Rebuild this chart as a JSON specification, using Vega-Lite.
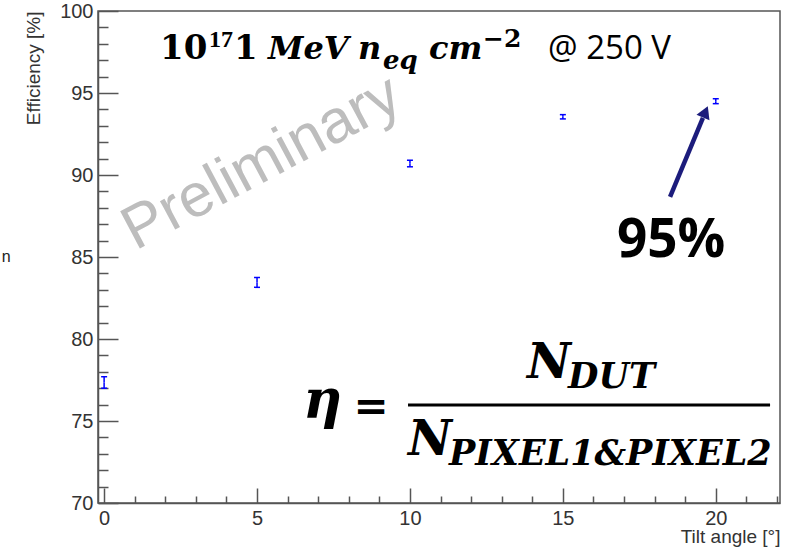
{
  "$schema": "https://vega.github.io/schema/vega-lite/v6.json",
  "width": 682,
  "height": 492,
  "autosize": {"type": "none"},
  "padding": {"left": 98, "top": 11, "right": 10, "bottom": 45},
  "background": "white",
  "config": {"view": {"stroke": "#555555", "strokeWidth": 1.5}},
  "datasets": {
    "pts": [
      {"x": 0, "y": 77.35, "lo": 77.0, "hi": 77.7},
      {"x": 5, "y": 83.45, "lo": 83.15, "hi": 83.75},
      {"x": 10, "y": 90.7, "lo": 90.5, "hi": 90.9},
      {"x": 15, "y": 93.55, "lo": 93.42, "hi": 93.68},
      {"x": 20, "y": 94.5, "lo": 94.35, "hi": 94.65}
    ],
    "wm": [{"x": 5.43, "y": 89.75, "t": "Preliminary"}],
    "edge": [{"x": -3.2, "y": 84.7, "t": "n"}],
    "tBig": [{"x": 1.827, "y": 97.07, "t": "10"}, {"x": 4.247, "y": 97.07, "t": "1"}],
    "tSup1": [{"x": 3.43, "y": 97.8, "t": "17"}],
    "tSup2": [{"x": 12.39, "y": 97.8, "t": "−2"}],
    "tIt": [{"x": 5.36, "y": 97.07, "t": "MeV"}, {"x": 8.302, "y": 97.07, "t": "n"}, {"x": 10.62, "y": 97.07, "t": "cm"}],
    "tSub": [{"x": 9.12, "y": 96.46, "t": "eq"}],
    "tV": [{"x": 14.515, "y": 97.07, "t": "@ 250 V"}],
    "eta": [{"x": 6.504, "y": 75.18, "t": "η"}],
    "eq": [{"x": 8.727, "y": 75.06, "t": "="}],
    "bigN": [{"x": 13.829, "y": 77.62, "t": "N"}, {"x": 9.937, "y": 72.93, "t": "N"}],
    "subN": [{"x": 15.17, "y": 77.01, "t": "DUT"}, {"x": 11.278, "y": 72.32, "t": "PIXEL1&PIXEL2"}],
    "bar": [{"x": 9.937, "x2": 21.775, "y": 75.976}],
    "pct": [{"x": 16.77, "y": 85.0, "t": "95%"}],
    "arrow": [{"x": 18.505, "y": 88.66, "x2": 19.58, "y2": 93.48}],
    "head": [{"x": 19.66, "y": 93.85}]
  },
  "encoding": {
    "x": {
      "field": "x", "type": "quantitative",
      "scale": {"domain": [-0.2, 22.1], "nice": false, "zero": false},
      "axis": {
        "values": [0,1,2,3,4,5,6,7,8,9,10,11,12,13,14,15,16,17,18,19,20,21,22],
        "labelExpr": "datum.value % 5 === 0 ? datum.label : ''",
        "format": "d",
        "tickSize": {"condition": {"test": "datum.value % 5 === 0", "value": -15}, "value": -7},
        "labelPadding": 20,
        "labelFont": "Liberation Sans", "labelFontSize": 20, "labelColor": "#333333",
        "labelFlush": false, "labelOverlap": false,
        "domainColor": "#555555", "domainWidth": 1.5, "tickColor": "#555555", "tickWidth": 1.5,
        "grid": false,
        "title": "Tilt angle [°]", "titleAnchor": "end", "titleFont": "Liberation Sans", "titleFontSize": 19,
        "titleFontWeight": "normal", "titleColor": "#333333", "titlePadding": -9
      }
    },
    "y": {
      "field": "y", "type": "quantitative",
      "scale": {"domain": [70, 100], "nice": false, "zero": false},
      "axis": {
        "values": [70,71,72,73,74,75,76,77,78,79,80,81,82,83,84,85,86,87,88,89,90,91,92,93,94,95,96,97,98,99,100],
        "labelExpr": "datum.value % 5 === 0 ? datum.label : ''",
        "format": "d",
        "tickSize": {"condition": {"test": "datum.value % 5 === 0", "value": -20}, "value": -10},
        "labelPadding": 25,
        "labelFont": "Liberation Sans", "labelFontSize": 20, "labelColor": "#333333",
        "labelFlush": false, "labelOverlap": false,
        "domainColor": "#555555", "domainWidth": 1.5, "tickColor": "#555555", "tickWidth": 1.5,
        "grid": false,
        "title": "Efficiency [%]", "titleAnchor": "end", "titleFont": "Liberation Sans", "titleFontSize": 19,
        "titleFontWeight": "normal", "titleColor": "#333333", "titlePadding": 16
      }
    }
  },
  "layer": [
    {
      "data": {"name": "wm"},
      "mark": {"type": "text", "font": "Liberation Sans", "fontSize": 61, "color": "#bdbdbd", "angle": -28, "align": "center", "baseline": "alphabetic"},
      "encoding": {"text": {"field": "t"}}
    },
    {
      "data": {"name": "edge"},
      "mark": {"type": "text", "font": "Liberation Sans", "fontSize": 16, "color": "#222222", "align": "center", "baseline": "alphabetic"},
      "encoding": {"text": {"field": "t"}}
    },
    {
      "data": {"name": "pts"},
      "mark": {"type": "rule", "color": "#0000ff", "strokeWidth": 1.5},
      "encoding": {"y2": {"field": "hi"}}
    },
    {
      "data": {"name": "pts"},
      "mark": {"type": "rule", "color": "#0000ff", "strokeWidth": 1.5},
      "encoding": {"y2": {"field": "lo"}}
    },
    {
      "data": {"name": "pts"},
      "transform": [{"fold": ["lo", "hi"], "as": ["end", "y"]}],
      "mark": {"type": "point", "shape": "M-1,0L1,0", "filled": false, "stroke": "#0000ff", "strokeWidth": 1.5, "size": 36, "opacity": 1},
      "encoding": {}
    },
    {
      "data": {"name": "tBig"},
      "mark": {"type": "text", "font": "DejaVu Serif", "fontWeight": "bold", "fontSize": 34, "color": "black", "align": "left", "baseline": "alphabetic"},
      "encoding": {"text": {"field": "t"}}
    },
    {
      "data": {"name": "tSup1"},
      "mark": {"type": "text", "font": "Liberation Serif", "fontWeight": "bold", "fontSize": 24, "color": "black", "align": "left", "baseline": "alphabetic"},
      "encoding": {"text": {"field": "t"}}
    },
    {
      "data": {"name": "tSup2"},
      "mark": {"type": "text", "font": "DejaVu Serif", "fontWeight": "bold", "fontSize": 25, "color": "black", "align": "left", "baseline": "alphabetic"},
      "encoding": {"text": {"field": "t"}}
    },
    {
      "data": {"name": "tIt"},
      "mark": {"type": "text", "font": "DejaVu Serif", "fontWeight": "bold", "fontStyle": "italic", "fontSize": 32, "color": "black", "align": "left", "baseline": "alphabetic"},
      "encoding": {"text": {"field": "t"}}
    },
    {
      "data": {"name": "tSub"},
      "mark": {"type": "text", "font": "DejaVu Serif", "fontWeight": "bold", "fontStyle": "italic", "fontSize": 26, "color": "black", "align": "left", "baseline": "alphabetic"},
      "encoding": {"text": {"field": "t"}}
    },
    {
      "data": {"name": "tV"},
      "mark": {"type": "text", "font": "Open Sans", "fontSize": 33, "color": "black", "align": "left", "baseline": "alphabetic"},
      "encoding": {"text": {"field": "t"}}
    },
    {
      "data": {"name": "eta"},
      "mark": {"type": "text", "font": "DejaVu Serif", "fontWeight": "bold", "fontStyle": "italic", "fontSize": 54, "color": "black", "align": "left", "baseline": "alphabetic"},
      "encoding": {"text": {"field": "t"}}
    },
    {
      "data": {"name": "eq"},
      "mark": {"type": "text", "font": "DejaVu Serif", "fontWeight": "bold", "fontSize": 42, "color": "black", "align": "center", "baseline": "alphabetic"},
      "encoding": {"text": {"field": "t"}}
    },
    {
      "data": {"name": "bigN"},
      "mark": {"type": "text", "font": "DejaVu Serif", "fontWeight": "bold", "fontStyle": "italic", "fontSize": 48, "color": "black", "align": "left", "baseline": "alphabetic"},
      "encoding": {"text": {"field": "t"}}
    },
    {
      "data": {"name": "subN"},
      "mark": {"type": "text", "font": "DejaVu Serif", "fontWeight": "bold", "fontStyle": "italic", "fontSize": 35, "color": "black", "align": "left", "baseline": "alphabetic"},
      "encoding": {"text": {"field": "t"}}
    },
    {
      "data": {"name": "bar"},
      "mark": {"type": "rule", "color": "black", "strokeWidth": 3},
      "encoding": {"x2": {"field": "x2"}}
    },
    {
      "data": {"name": "pct"},
      "mark": {"type": "text", "font": "Open Sans", "fontWeight": "bold", "fontSize": 53, "color": "black", "align": "left", "baseline": "alphabetic"},
      "encoding": {"text": {"field": "t"}}
    },
    {
      "data": {"name": "arrow"},
      "mark": {"type": "rule", "color": "#1c1c7c", "strokeWidth": 4.5},
      "encoding": {"x2": {"field": "x2"}, "y2": {"field": "y2"}}
    },
    {
      "data": {"name": "head"},
      "mark": {"type": "point", "shape": "triangle-up", "filled": true, "color": "#1c1c7c", "size": 200, "angle": 23, "opacity": 1},
      "encoding": {}
    }
  ]
}
